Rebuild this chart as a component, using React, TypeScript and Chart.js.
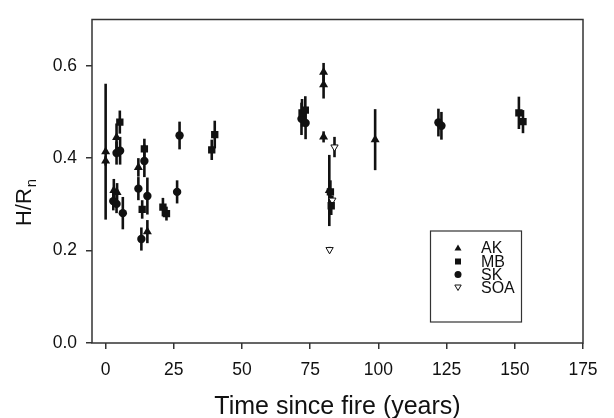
import React, { useEffect, useRef } from "react";
import { Chart, registerables } from "chart.js";

Chart.register(...registerables);

// ---- data ----
const xTickValues = [0, 25, 50, 75, 100, 125, 150, 175];
const yTickValues = [0, 0.2, 0.4, 0.6];

const akX = [0, 0, 4, 3, 4.2, 12, 15.3, 79.9, 79.9, 79.9, 82, 98.8];
const akY = [0.414, 0.394, 0.445, 0.33, 0.326, 0.38, 0.241, 0.586, 0.559, 0.446, 0.33, 0.44];
const akErr = [0.147, 0.01, 0.03, 0.025, 0.02, 0.02, 0.025, 0.02, 0.03, 0.012, 0.077, 0.066];

const mbX = [5.2, 14.2, 13.4, 21, 22.3, 38.9, 40, 72, 73.2, 82.4, 82.7, 151.5, 153];
const mbY = [0.478, 0.42, 0.289, 0.294, 0.28, 0.418, 0.451, 0.498, 0.504, 0.327, 0.297, 0.498, 0.479];
const mbErr = [0.025, 0.022, 0.02, 0.02, 0.015, 0.022, 0.03, 0.03, 0.03, 0.025, 0.02, 0.035, 0.025];

const skX = [2.8, 4, 4, 5.3, 6.3, 12, 14.2, 13.1, 15.3, 26.2, 27.1, 71.8, 73.3, 122, 123.1];
const skY = [0.307, 0.301, 0.411, 0.416, 0.281, 0.334, 0.394, 0.225, 0.318, 0.327, 0.449, 0.485, 0.476, 0.477, 0.47];
const skErr = [0.02, 0.02, 0.025, 0.03, 0.035, 0.025, 0.035, 0.025, 0.04, 0.025, 0.03, 0.035, 0.035, 0.03, 0.03];

const soaX = [83.9, 83.1, 82.1];
const soaY = [0.424, 0.309, 0.202];
const soaErr = [0.022, 0.01, 0.006];

const seriesNames = ["AK", "MB", "SK", "SOA"];
const xTitle = "Time since fire (years)";

const FONT = "'Liberation Sans', Arial, Helvetica, sans-serif";
const INK = "#111";

function pts(xs: number[], ys: number[], es: number[]) {
  return xs.map((x, i) => ({ x, y: ys[i], e: es[i] }));
}

const errorBars = {
  id: "errorBars",
  beforeDatasetsDraw(chart: any) {
    const { ctx, scales } = chart;
    ctx.save();
    ctx.strokeStyle = INK;
    ctx.lineWidth = 2.6;
    chart.data.datasets.forEach((ds: any) => {
      ds.data.forEach((p: any) => {
        const px = scales.x.getPixelForValue(p.x);
        ctx.beginPath();
        ctx.moveTo(px, scales.y.getPixelForValue(p.y - p.e));
        ctx.lineTo(px, scales.y.getPixelForValue(p.y + p.e));
        ctx.stroke();
      });
    });
    ctx.restore();
  },
};

const decorations = {
  id: "decorations",
  afterDraw(chart: any) {
    const { ctx, chartArea: a } = chart;
    ctx.save();
    // frame
    ctx.strokeStyle = "#333";
    ctx.lineWidth = 1.5;
    ctx.strokeRect(a.left, a.top, a.right - a.left, a.bottom - a.top);

    // x title
    ctx.fillStyle = INK;
    ctx.font = `25px ${FONT}`;
    ctx.textAlign = "center";
    ctx.textBaseline = "alphabetic";
    ctx.fillText(xTitle, (a.left + a.right) / 2, 414);

    // y title with subscript
    ctx.save();
    ctx.translate(31, 203);
    ctx.rotate(-Math.PI / 2);
    ctx.textAlign = "left";
    ctx.font = `22px ${FONT}`;
    const main = "H/R";
    const mw = ctx.measureText(main).width;
    ctx.font = `15px ${FONT}`;
    const sw = ctx.measureText("n").width;
    const start = -(mw + sw) / 2;
    ctx.font = `22px ${FONT}`;
    ctx.fillText(main, start, 0);
    ctx.font = `15px ${FONT}`;
    ctx.fillText("n", start + mw + 1, 5);
    ctx.restore();

    // legend
    const lx = 430.5, ly = 231, lw = 91, lh = 91;
    ctx.strokeStyle = "#333";
    ctx.lineWidth = 1.2;
    ctx.strokeRect(lx, ly, lw, lh);
    const rows = [248, 261.5, 274.5, 287.5];
    const mx = 458;
    ctx.font = `16px ${FONT}`;
    ctx.textAlign = "left";
    ctx.textBaseline = "middle";
    seriesNames.forEach((name, i) => {
      const y = rows[i];
      ctx.fillStyle = INK;
      ctx.strokeStyle = INK;
      ctx.lineWidth = 1;
      ctx.beginPath();
      if (i === 0) {
        ctx.moveTo(mx, y - 3.5);
        ctx.lineTo(mx + 3.5, y + 2.5);
        ctx.lineTo(mx - 3.5, y + 2.5);
        ctx.closePath();
        ctx.fill();
      } else if (i === 1) {
        ctx.rect(mx - 3, y - 3, 6, 6);
        ctx.fill();
      } else if (i === 2) {
        ctx.arc(mx, y, 3.5, 0, Math.PI * 2);
        ctx.fill();
      } else {
        ctx.fillStyle = "#fff";
        ctx.moveTo(mx, y + 3);
        ctx.lineTo(mx + 3.2, y - 2.5);
        ctx.lineTo(mx - 3.2, y - 2.5);
        ctx.closePath();
        ctx.fill();
        ctx.stroke();
      }
      ctx.fillStyle = INK;
      ctx.fillText(name, 481, y + 1);
    });
    ctx.restore();
  },
};

export default function App() {
  const ref = useRef<HTMLCanvasElement | null>(null);

  useEffect(() => {
    if (!ref.current) return;
    const tickFont = { family: FONT, size: 17.5 };
    const chart = new Chart(ref.current, {
      type: "scatter",
      data: {
        datasets: [
          {
            label: "AK",
            data: pts(akX, akY, akErr),
            pointStyle: "triangle",
            pointRadius: 5.2,
            backgroundColor: INK,
            borderColor: INK,
            borderWidth: 0,
          },
          {
            label: "MB",
            data: pts(mbX, mbY, mbErr),
            pointStyle: "rect",
            pointRadius: 5.2,
            backgroundColor: INK,
            borderColor: INK,
            borderWidth: 0,
          },
          {
            label: "SK",
            data: pts(skX, skY, skErr),
            pointStyle: "circle",
            pointRadius: 4.2,
            backgroundColor: INK,
            borderColor: INK,
            borderWidth: 0,
          },
          {
            label: "SOA",
            data: pts(soaX, soaY, soaErr),
            pointStyle: "triangle",
            rotation: 180,
            pointRadius: 4.2,
            backgroundColor: "#fff",
            borderColor: INK,
            borderWidth: 1,
          },
        ] as any,
      },
      options: {
        animation: false,
        responsive: false,
        events: [],
        layout: { padding: { top: 15, right: 31, left: 0, bottom: 0 } },
        plugins: { legend: { display: false }, tooltip: { enabled: false } },
        scales: {
          x: {
            type: "linear",
            min: -5,
            max: 175,
            afterBuildTicks: (s: any) => {
              s.ticks = xTickValues.map((v) => ({ value: v }));
            },
            afterFit: (s: any) => {
              s.height = 75;
            },
            grid: { display: true, drawOnChartArea: false, drawTicks: true, tickLength: 6, color: "#333", lineWidth: 1.5 },
            border: { display: false },
            ticks: { font: tickFont, color: INK, padding: 11, maxRotation: 0, autoSkip: false, callback: (v: any) => String(v) },
          },
          y: {
            type: "linear",
            min: 0,
            max: 0.7,
            afterBuildTicks: (s: any) => {
              s.ticks = yTickValues.map((v) => ({ value: v }));
            },
            afterFit: (s: any) => {
              s.width = 92;
            },
            grid: { display: true, drawOnChartArea: false, drawTicks: true, tickLength: 6, color: "#333", lineWidth: 1.5 },
            border: { display: false },
            ticks: { font: tickFont, color: INK, padding: 9, callback: (v: any) => Number(v).toFixed(1) },
          },
        },
      },
      plugins: [errorBars, decorations],
    } as any);
    return () => chart.destroy();
  }, []);

  return (
    <div style={{ position: "fixed", left: 0, top: 0, width: 614, height: 418, background: "#fff" }}>
      <canvas ref={ref} width={614} height={418} style={{ display: "block", width: 614, height: 418 }} />
    </div>
  );
}
